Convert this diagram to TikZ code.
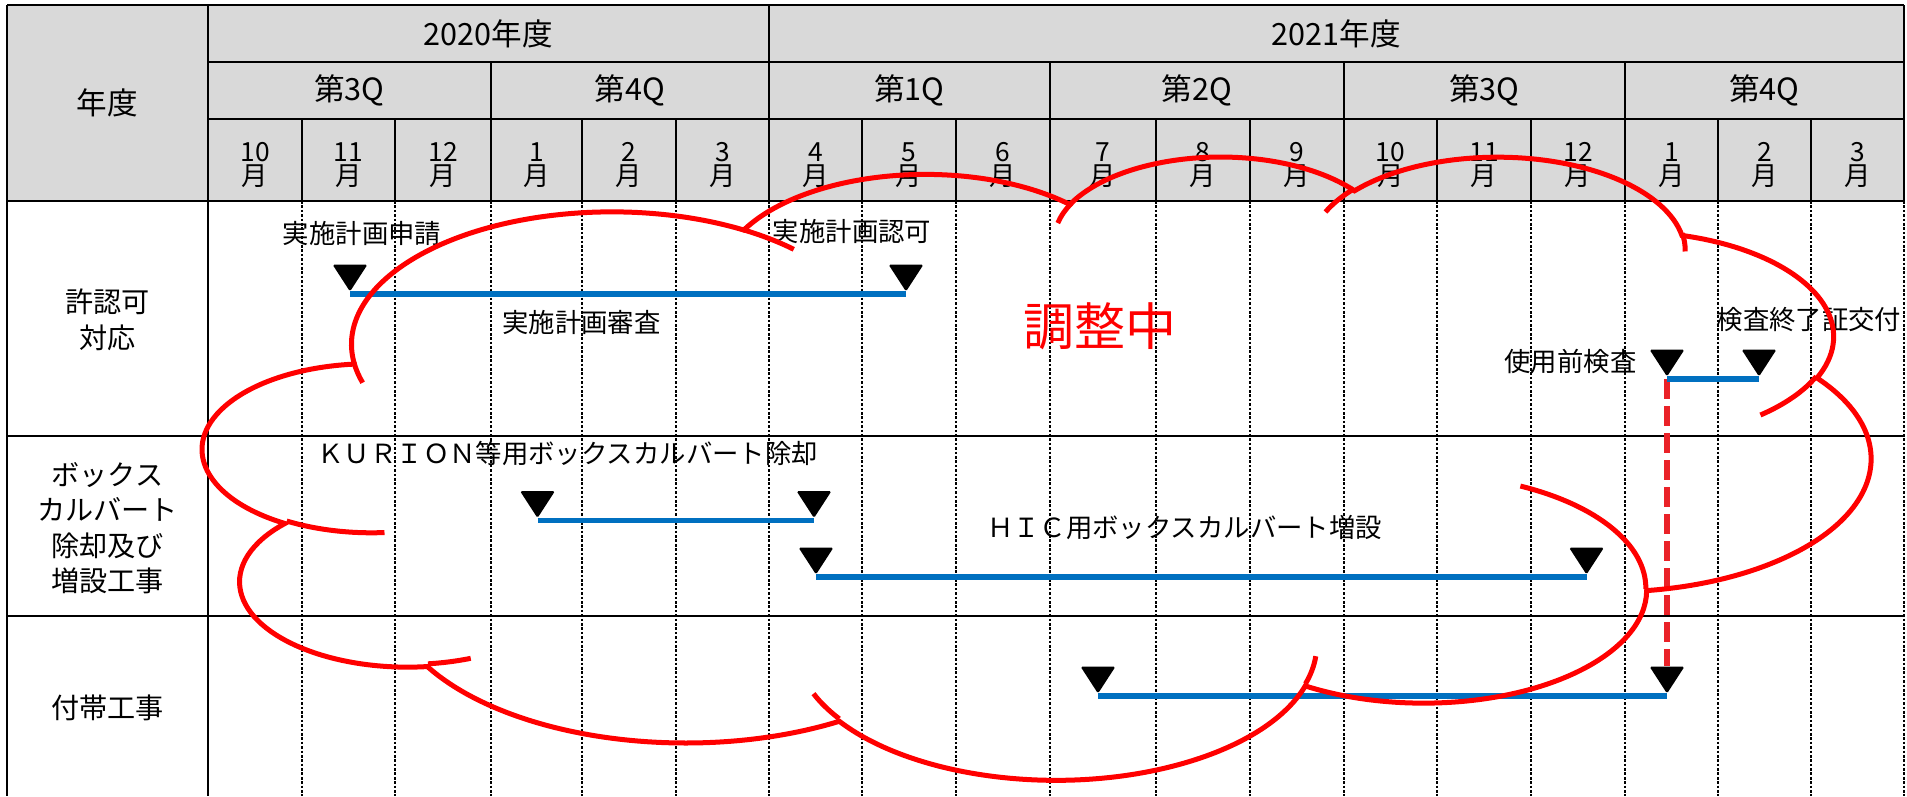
\documentclass[tikz,border=0pt]{standalone}
\usepackage{fontspec}
\setmainfont{Noto Sans CJK JP}
\usetikzlibrary{calc}

\definecolor{hdrgray}{RGB}{217,217,217}
\definecolor{barblue}{RGB}{0,112,192}
\definecolor{dashred}{RGB}{234,34,40}

\tikzset{
  hdr/.style={font=\fontsize{8.7}{10}\selectfont},
  mon/.style={font=\fontsize{7.5}{6.9}\selectfont, align=center},
  rowlbl/.style={font=\fontsize{8}{10.1}\selectfont, align=center},
  lbl/.style={font=\fontsize{7.5}{9}\selectfont, inner sep=0pt},
  gridline/.style={line width=0.6pt},
  dotline/.style={line width=0.55pt, dash pattern=on 0.75pt off 0.5pt},
  bar/.style={barblue, line width=0.055cm},
  milestone/.style={fill=black, rounded corners=0.5pt},
  reddash/.style={dashred, line width=0.06cm, dash pattern=on 0.2cm off 0.07cm},
  cloudline/.style={red, line width=0.05cm},
  cloudarc/.style n args={4}{x radius=#1, y radius=#2,
    start angle={pa(#3,#1/#2)}, end angle={pa(#3+#4,#1/#2)}}
}

\begin{document}
\begin{tikzpicture}[x=0.01cm, y=-0.01cm,
    declare function={pa(\ang,\rat)=\ang+atan((\rat-1)*sin(\ang)*cos(\ang)/(cos(\ang)*cos(\ang)+\rat*sin(\ang)*sin(\ang)));}]
    \useasboundingbox (0,0) rectangle (1907,796);

    % header cells
    \fill[hdrgray] (7,5) rectangle (1904,201);
    \foreach \x in {302,395,491,582,676,769,862,956,1050,1156,1250,1344,1437,1531,1625,1718,1811,1904}
        \draw[dotline] (\x,201) -- (\x,796);
    \foreach \x in {302,395,491,582,676,769,862,956,1050,1156,1250,1344,1437,1531,1625,1718,1811}
        \draw[gridline] (\x,119) -- (\x,201);
    \foreach \x in {491,1050,1344,1625}
        \draw[gridline] (\x,62) -- (\x,119);
    \draw[gridline] (769,5) -- (769,119);
    \draw[gridline] (1904,5) -- (1904,201);
    \draw[gridline] (7,5) -- (1904,5);
    \draw[gridline] (208,62) -- (1904,62);
    \draw[gridline] (208,119) -- (1904,119);
    \draw[gridline] (7,201) -- (1904,201);
    \draw[gridline] (7,436) -- (1904,436);
    \draw[gridline] (7,616) -- (1904,616);
    \draw[gridline] (7,5) -- (7,796);
    \draw[gridline] (208,5) -- (208,796);

    \node[hdr] (fyhead) at (107.5,103) {年度};
    \node[hdr] (fy2020) at (488.5,33.5) {2020年度};
    \node[hdr] (fy2021) at (1336.5,33.5) {2021年度};
    \foreach \xa/\xb/\q [count=\i] in {208/491/3, 491/769/4, 769/1050/1, 1050/1344/2, 1344/1625/3, 1625/1904/4}
        \node[hdr] (qtr\i) at ({(\xa+\xb)/2},90.5) {第\q Q};
    \foreach \xa/\xb/\m [count=\i] in {208/302/10, 302/395/11, 395/491/12, 491/582/1, 582/676/2, 676/769/3,
        769/862/4, 862/956/5, 956/1050/6, 1050/1156/7, 1156/1250/8, 1250/1344/9,
        1344/1437/10, 1437/1531/11, 1531/1625/12, 1625/1718/1, 1718/1811/2, 1811/1904/3}
        \node[mon] (mon\i) at ({(\xa+\xb)/2},165) {\m\\月};

    \node[rowlbl] (permit) at (107.5,320) {許認可\\対応};
    \node[rowlbl] (culvert) at (107.5,528) {ボックス\\カルバート\\除却及び\\増設工事};
    \node[rowlbl] (subwork) at (107.5,708) {付帯工事};

    % milestones
    \coordinate (p1) at (350,294);
    \coordinate (p2) at (906,294);
    \coordinate (r1) at (537.5,520.5);
    \coordinate (r2) at (814,520.5);
    \coordinate (n1) at (816,577);
    \coordinate (n2) at (1586.5,577);
    \coordinate (u1) at (1667,379);
    \coordinate (u2) at (1759,379);
    \coordinate (s1) at (1098,696);
    \coordinate (s2) at (1667,696);

    \draw[reddash, shorten >=0.3cm] (u1) -- (s2);
    \foreach \a/\b in {p1/p2, r1/r2, n1/n2, u1/u2, s1/s2}
        \draw[bar] (\a) -- (\b);
    \foreach \m in {p1,p2,r1,r2,n1,n2,u1,u2,s1,s2}
        \fill[milestone] (\m) ++(0,-2.5) -- ++(-17.5,-27) -- ++(35,0) -- cycle;

    \node[lbl] (apply) at (362,233) {実施計画申請};
    \node[lbl] (approve) at (852,231) {実施計画認可};
    \node[lbl] (review) at (581.5,322) {実施計画審査};
    \node[lbl] (kurion) at (567.7,453) {ＫＵＲＩＯＮ等用ボックスカルバート除却};
    \node[lbl] (hic) at (1184.5,527) {ＨＩＣ用ボックスカルバート増設};
    \node[lbl] (preuse) at (1570.5,361) {使用前検査};
    \node[lbl, anchor=west] (cert) at (1716,320) {検査終了証交付};
    \node[red, font=\fontsize{14.5}{16}\selectfont] (adjust) at (1100,326) {調整中};

    % cloud
    \begin{scope}[shift={(203.4,155)}, x=0.38565cm, y=-0.14414cm, cloudline]
        \draw (3.9,14.37)
            arc[cloudarc={6.753}{9.19}{-190.4875}{123.7805}]
            arc[cloudarc={5.333}{7.267}{-144.1024}{89.9452}]
            arc[cloudarc={4.365}{5.945}{-145.8079}{99.723}]
            arc[cloudarc={4.857}{6.595}{-130.9861}{117.2417}]
            arc[cloudarc={5.333}{7.273}{-78.7089}{109.0269}]
            arc[cloudarc={6.775}{9.22}{-46.2673}{130.269}]
            arc[cloudarc={5.785}{7.867}{0.625}{114.0333}]
            arc[cloudarc={6.752}{9.215}{22.4516}{115.1726}]
            arc[cloudarc={7.72}{10.543}{66.2426}{75.711}]
            arc[cloudarc={4.36}{5.918}{-274.9421}{146.7356}]
            arc[cloudarc={4.345}{5.945}{-246.8285}{152.5189}]
            -- cycle;
        \foreach \sx/\sy/\w/\h/\st/\sw in {
            4.693/26.177/4.345/5.945/86.742/26.4295,
            6.928/34.899/4.36/5.918/73.6105/11.4475,
            16.478/39.09/6.752/9.215/137.6242/14.0811,
            28.827/34.751/6.752/9.215/6.4533/15.9984,
            34.129/22.954/5.785/7.867/-70.2924/70.9174,
            41.798/15.354/5.333/7.273/30.318/27.7515,
            38.324/5.426/4.857/6.595/-13.7443/14.8512,
            29.078/3.952/4.857/6.595/-149.1815/18.1954,
            22.141/4.72/4.365/5.945/-163.4943/17.6864,
            14.0/5.192/6.753/9.19/-66.7069/12.3194,
            4.127/15.789/6.753/9.19/157.6544/11.8582}
            \draw (\sx,\sy) arc[cloudarc={\w}{\h}{\st}{\sw}];
    \end{scope}
\end{tikzpicture}
\end{document}
